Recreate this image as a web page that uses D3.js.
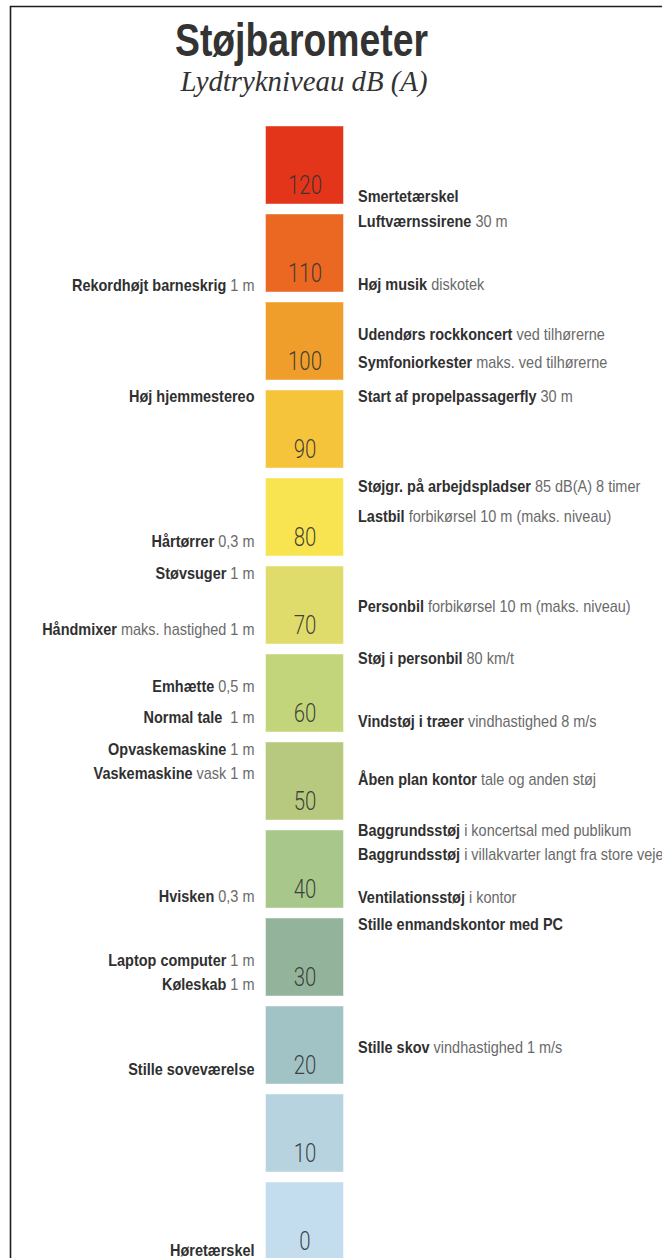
<!DOCTYPE html>
<html>
<head>
<meta charset="utf-8">
<script src="https://cdn.jsdelivr.net/npm/d3@7"></script>
<style>
  html, body { margin: 0; padding: 0; background: #fff; }
  svg { display: block; }
  .lbl { font-family: "Liberation Sans", Arial, sans-serif; font-size: 16px; }
  .lbl .b { font-weight: bold; fill: #303030; }
  .lbl .r { font-weight: normal; fill: #6a6a6a; }
</style>
</head>
<body>
<svg id="chart" width="662" height="1258"></svg>
<script>
// ---------- data ----------
const title = "Støjbarometer";
const subtitle = "Lydtrykniveau dB (A)";

// scale steps (dB)
const levels = [120, 110, 100, 90, 80, 70, 60, 50, 40, 30, 20, 10, 0];

// labels right of the barometer
const rightNames = ["Smertetærskel", "Luftværnssirene", "Høj musik", "Udendørs rockkoncert", "Symfoniorkester",
  "Start af propelpassagerfly", "Støjgr. på arbejdspladser", "Lastbil", "Personbil", "Støj i personbil",
  "Vindstøj i træer", "Åben plan kontor", "Baggrundsstøj", "Baggrundsstøj", "Ventilationsstøj",
  "Stille enmandskontor med PC", "Stille skov"];
const rightNotes = ["", "30 m", "diskotek", "ved tilhørerne", "maks. ved tilhørerne",
  "30 m", "85 dB(A) 8 timer", "forbikørsel 10 m (maks. niveau)", "forbikørsel 10 m (maks. niveau)", "80 km/t",
  "vindhastighed 8 m/s", "tale og anden støj", "i koncertsal med publikum", "i villakvarter langt fra store veje", "i kontor",
  "", "vindhastighed 1 m/s"];
const rightLevels = [120, 117.2, 110, 104.3, 101.1, 97.3, 87.0, 83.6, 73.4, 67.5, 60.3, 53.7, 48.0, 45.2, 40.3, 37.3, 23.3];

// labels left of the barometer
const leftNames = ["Rekordhøjt barneskrig", "Høj hjemmestereo", "Hårtørrer", "Støvsuger", "Håndmixer",
  "Emhætte", "Normal tale", "Opvaskemaskine", "Vaskemaskine", "Hvisken", "Laptop computer", "Køleskab",
  "Stille soveværelse", "Høretærskel"];
const leftNotes = ["1 m", "", "0,3 m", "1 m", "maks. hastighed 1 m",
  "0,5 m", " 1 m", "1 m", "vask 1 m", "0,3 m", "1 m", "1 m", "", ""];
const leftLevels = [109.9, 97.3, 80.8, 77.2, 70.8, 64.3, 60.8, 57.2, 54.4, 40.4, 33.2, 30.4, 20.8, 0.2];

// ---------- style ----------
const palette = ["#e3351a", "#eb6822", "#ef9e2c", "#f6c43b", "#f8e350", "#e0dc6b", "#c3d57b",
  "#b6c97e", "#a7c78b", "#93b49a", "#a2c3c6", "#b7d3df", "#c3ddef"];
const condense = 0.905;     // horizontal squeeze to imitate a condensed typeface
const numCondense = 0.8;

const svg = d3.select("#chart");

// border (top + left)
svg.append("path")
  .attr("d", "M10.5,1270 L10.5,6.5 L680,6.5")
  .attr("fill", "none").attr("stroke", "#1e1e1e").attr("stroke-width", 1.6);

// title
svg.append("text")
  .attr("x", 301.5).attr("y", 56)
  .attr("text-anchor", "middle")
  .style("font-family", '"Liberation Sans", Arial, sans-serif')
  .style("font-weight", "bold").style("font-size", "46px")
  .attr("fill", "#333")
  .attr("textLength", 253).attr("lengthAdjust", "spacingAndGlyphs")
  .text(title);

svg.append("text")
  .attr("x", 304).attr("y", 91)
  .attr("text-anchor", "middle")
  .style("font-family", '"Liberation Serif", "DejaVu Serif", serif')
  .style("font-style", "italic").style("font-size", "28.8px")
  .attr("fill", "#333")
  .text(subtitle);

// scales: dB -> y (value sits at the bottom of its box)
const y = d3.scaleLinear().domain([120, 0]).range([204, 1260]);
const step = y(110) - y(120);           // 88 px per 10 dB
const boxH = step - 10;
const x = d3.scaleBand().domain(["bar"]).range([265.5, 343.5]).padding(0);
const color = d3.scaleOrdinal().domain(levels).range(palette);

const boxes = svg.append("g").selectAll("g").data(levels).join("g");
boxes.append("rect")
  .attr("x", x("bar"))
  .attr("y", d => y(d) - boxH)
  .attr("width", x.bandwidth())
  .attr("height", boxH)
  .attr("fill", d => color(d))
  .attr("stroke", "rgba(255,255,255,0.45)")
  .attr("stroke-width", 1);
boxes.append("text")
  .attr("transform", `scale(${numCondense},1)`)
  .attr("x", (x("bar") + x.bandwidth() / 2 + 0.5) / numCondense)
  .attr("y", d => y(d) - 10)
  .attr("text-anchor", "middle")
  .style("font-family", 'Roboto, "Liberation Sans", sans-serif')
  .style("font-weight", 300)
  .style("font-size", "25.5px")
  .attr("fill", "#333")
  .attr("fill-opacity", 0.92)
  .text(d => d);

// labels
function drawLabels(names, notes, lvls, side) {
  const data = names.map((n, i) => ({ name: n, note: notes[i], level: lvls[i] }));
  const t = svg.append("g").attr("transform", `scale(${condense},1)`)
    .selectAll("text").data(data).join("text")
    .attr("class", "lbl")
    .attr("x", (side === "right" ? 358 : 254.5) / condense)
    .attr("y", d => y(d.level) - 2)
    .attr("text-anchor", side === "right" ? "start" : "end")
    .style("white-space", "pre");
  t.append("tspan").attr("class", "b").text(d => d.name);
  t.filter(d => d.note).append("tspan").attr("class", "r").text(d => " " + d.note);
}
drawLabels(rightNames, rightNotes, rightLevels, "right");
drawLabels(leftNames, leftNotes, leftLevels, "left");
</script>
</body>
</html>
